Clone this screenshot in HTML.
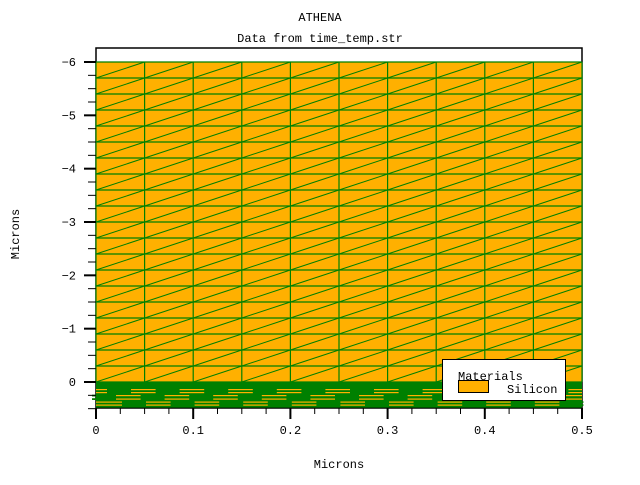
<!DOCTYPE html>
<html><head><meta charset="utf-8"><style>
body{margin:0;background:#fff}
svg text{font-family:"Liberation Mono","DejaVu Sans Mono",monospace;font-size:12px;fill:#000}
</style></head><body>
<svg id="c" width="640" height="480" xmlns="http://www.w3.org/2000/svg">
<text x="320" y="21" text-anchor="middle">ATHENA</text>
<text x="320" y="42" text-anchor="middle">Data from time_temp.str</text>
<text x="339" y="468" text-anchor="middle">Microns</text>
<text transform="translate(19,234) rotate(-90)" text-anchor="middle">Microns</text>
<g id="plot"></g>
</svg>
<script>
const xTicks=[0,0.1,0.2,0.3,0.4,0.5];
const xTickLabels=["0","0.1","0.2","0.3","0.4","0.5"];
const yTicks=[-6,-5,-4,-3,-2,-1,0];
const yTickLabels=["-6","-5","-4","-3","-2","-1","0"];
const meshX=[0,0.05,0.1,0.15,0.2,0.25,0.3,0.35,0.4,0.45,0.5];
const meshYStep=[0.3];
const siliconTop=[-6];
const oxideBottom=[0.48];
const xs=v=>96+v*972;
const ys=v=>382+v*53.333;
const NS="http://www.w3.org/2000/svg";
const g=document.getElementById('plot');
function mk(t,a,p){const e=document.createElementNS(NS,t);for(const k in a)e.setAttribute(k,a[k]);(p||g).appendChild(e);return e;}
const frame=mk('rect',{x:96,y:48,width:486,height:360,fill:'#fff',stroke:'#000','stroke-width':1.5});


const si=mk('rect',{x:96,y:ys(siliconTop[0]),width:486,height:ys(0)-ys(siliconTop[0]),fill:'#ffb000'});


const mesh=mk('g',{stroke:'#008000','stroke-width':1.2,fill:'none'});


const rows=[];for(let y=siliconTop[0];y<=0.0001;y+=meshYStep[0])rows.push(y);
rows.forEach(y=>mk('line',{x1:96,x2:582,y1:ys(y),y2:ys(y)},mesh));
meshX.forEach(x=>mk('line',{x1:xs(x),x2:xs(x),y1:ys(siliconTop[0]),y2:ys(0)},mesh));
for(let i=0;i<rows.length-1;i++)for(let j=0;j<meshX.length-1;j++)
 mk('line',{x1:xs(meshX[j]),y1:ys(rows[i+1]),x2:xs(meshX[j+1]),y2:ys(rows[i]),'stroke-width':1},mesh);
const bot=mk('g',{});


mk('rect',{x:96,y:382,width:486,height:ys(oxideBottom[0])-382,fill:'#008000'},bot);
const stripeRows=[389,392,395,398.5,401.5,404.5];
stripeRows.forEach((y,r)=>{
 mk('rect',{x:96,y:y,width:486,height:1.2,fill:'#ffb000'},bot);
 for(let j=0;j<meshX.length-1;j++){
  const x0=xs(meshX[j]);const off=r<2?11:(r<4?-4:26);
  mk('rect',{x:x0+off,y:y-0.3,width:24,height:1.8,fill:'#008000'},bot);
 }
});
const ax=mk('g',{stroke:'#000'});


for(let v=-6;v<=0.5001;v+=0.25){const maj=Math.abs(v-Math.round(v))<1e-6;
 mk('line',{x1:maj?84:88,x2:96,y1:ys(v),y2:ys(v),'stroke-width':maj?2:1},ax);}
for(let v=0;v<=0.5001;v+=0.025){const maj=Math.abs(v*10-Math.round(v*10))<1e-6;
 mk('line',{x1:xs(v),x2:xs(v),y1:408,y2:maj?419:414,'stroke-width':maj?2:1},ax);}
yTicks.forEach((v,i)=>{const t=mk('text',{x:76,y:ys(v)+4,'text-anchor':'end'});t.textContent=yTickLabels[i].replace('-','\u2212');
 
 });
xTicks.forEach((v,i)=>{const t=mk('text',{x:xs(v),y:434,'text-anchor':'middle'});t.textContent=xTickLabels[i];
 
 });
const lg=mk('g',{});


mk('rect',{x:442.5,y:359.5,width:123,height:41,fill:'#fff',stroke:'#000','stroke-width':1},lg);
const lt=mk('text',{x:458,y:380},lg);lt.textContent='Materials';


const sw=mk('rect',{x:458.5,y:380.5,width:30,height:12,fill:'#ffb000',stroke:'#000'},lg);


const ls=mk('text',{x:507,y:393},lg);ls.textContent='Silicon';


</script>
</body></html>
